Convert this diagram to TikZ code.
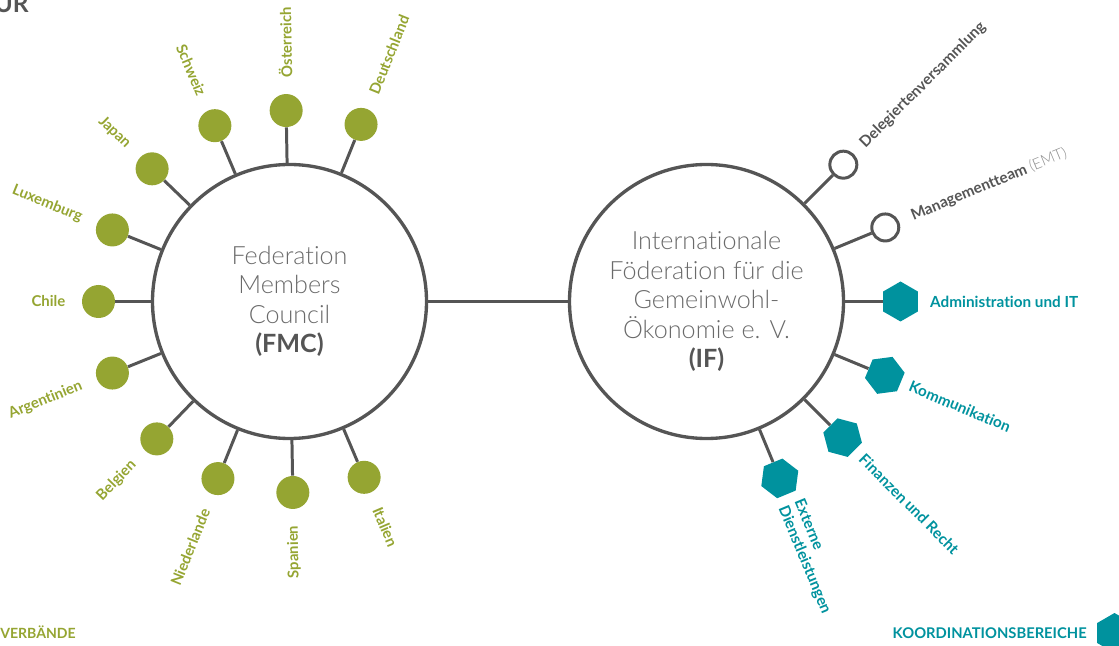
\documentclass[tikz,border=0pt]{standalone}
\usepackage{fontspec}
\setmainfont{Lato}[Ligatures=NoCommon]
\newfontfamily\thinfont{Lato Light}[Ligatures=NoCommon]
\usetikzlibrary{calc,shapes.geometric}
\definecolor{gwgreen}{HTML}{95A532}
\definecolor{gwteal}{HTML}{00929E}
\definecolor{gwgray}{HTML}{555555}
\definecolor{gwtext}{HTML}{6A6A6A}
\definecolor{gwlight}{HTML}{8C8C8C}
\begin{document}
\begin{tikzpicture}[
    spoke/.style={draw=gwgray, line width=1.7pt},
    hub/.style={circle, draw=gwgray, line width=1.9pt, minimum size=5.48cm, inner sep=0,
        align=center, text=gwtext, font=\thinfont\fontsize{14.3}{16.8}\selectfont},
    ball/.style={circle, fill=gwgreen, minimum size=0.66cm, inner sep=0},
    ring/.style={circle, draw=gwgray, line width=1.7pt, fill=white, minimum size=0.54cm, inner sep=0},
    hex/.style={regular polygon, regular polygon sides=6, fill=gwteal, minimum size=0.8cm, inner sep=0},
    land/.style={text=gwgreen, font=\bfseries\fontsize{8.5}{9.8}\selectfont},
    gremium/.style={text=gwgray, font=\bfseries\fontsize{8.7}{9.8}\selectfont},
    bereich/.style={text=gwteal, font=\bfseries\fontsize{8.7}{9.8}\selectfont}
]
    \useasboundingbox (0, 0) rectangle (22.38, 12.9);
    % the two councils
    \node[hub] (FMC) at (5.79, 6.87) {Federation\\Members\\Council\\{\normalfont\bfseries\color{gwgray}(FMC)}};
    \node[hub] (IF) at (14.13, 6.87) {Internationale\\Föderation für die\\Gemeinwohl-\\Ökonomie e. V.\\{\normalfont\bfseries\color{gwgray}(IF)}};
    \draw[spoke] (FMC) -- (IF);
    % member countries round the FMC
    \foreach \ang/\rot/\side/\land [count=\i] in {68/68/west/Deutschland, 91/91/west/Österreich,
        113/-67/east/Schweiz, 136/-44/east/Japan, 158/-22/east/Luxemburg, 180/0/east/Chile,
        202/22/east/Argentinien, 226/46/east/Belgien, 248/68/east/Niederlande,
        271/91/east/Spanien, 293/-67/west/Italien}
    {
        \node[ball] (b\i) at ($(FMC)+(\ang:3.82)$) {};
        \draw[spoke] (FMC) -- (b\i);
        \node[land, rotate=\rot, anchor=\side] (l\i) at ($(FMC)+(\ang:4.36)$) {\land};
    }
    % bodies of the IF
    \node[ring] (dv) at ($(IF)+(45:3.87)$) {};
    \node[ring] (emt) at ($(IF)+(22.5:3.87)$) {};
    % coordination areas
    \node[hex, rotate=30] (it) at ($(IF)+(0:3.88)$) {};
    \node[hex, rotate=7.5] (kom) at ($(IF)+(-22.5:3.86)$) {};
    \node[hex, rotate=-15] (fin) at ($(IF)+(-45:3.85)$) {};
    \node[hex, rotate=-37.5] (ext) at ($(IF)+(-67.5:3.83)$) {};
    \foreach \n in {dv, emt, it, kom, fin, ext}
        \draw[spoke] (IF) -- (\n);
    % their labels
    \node[gremium, rotate=45, anchor=west] (dvl) at ($(dv)+(45:0.42)$) {Delegiertenversammlung};
    \node[gremium, rotate=22.5, anchor=west] (emtl) at ($(emt)+(22.5:0.45)$) {Managementteam {\thinfont\mdseries\color{gwlight}(EMT)}};
    \node[bereich, anchor=west] (itl) at ($(it)+(0:0.47)$) {Administration und IT};
    \node[bereich, rotate=-22.5, anchor=west] (koml) at ($(kom)+(-22.5:0.42)$) {Kommunikation};
    \node[bereich, rotate=-45, anchor=west] (finl) at ($(fin)+(-45:0.42)$) {Finanzen und Recht};
    \node[bereich, rotate=-67.5, anchor=west, align=left] (extl) at ($(ext)+(-67.5:0.42)$) {Externe\\Dienstleistungen};
    % title and legend, cut by the edges
    \node[text=gwgray, font=\bfseries\fontsize{14}{16}\selectfont, anchor=base east, inner sep=0] (titel) at (0.58, 12.64) {UR};
    \node[land, font=\bfseries\fontsize{8}{9.6}\selectfont, anchor=base west, inner sep=0] (verb) at (0, 0.14) {VERBÄNDE};
    \node[bereich, font=\bfseries\fontsize{8.4}{9.6}\selectfont, anchor=base east, inner sep=0] (koord) at (21.74, 0.14) {KOORDINATIONSBEREICHE};
    \node[hex, rotate=30] (leg) at (22.29, 0.24) {};
\end{tikzpicture}
\end{document}
